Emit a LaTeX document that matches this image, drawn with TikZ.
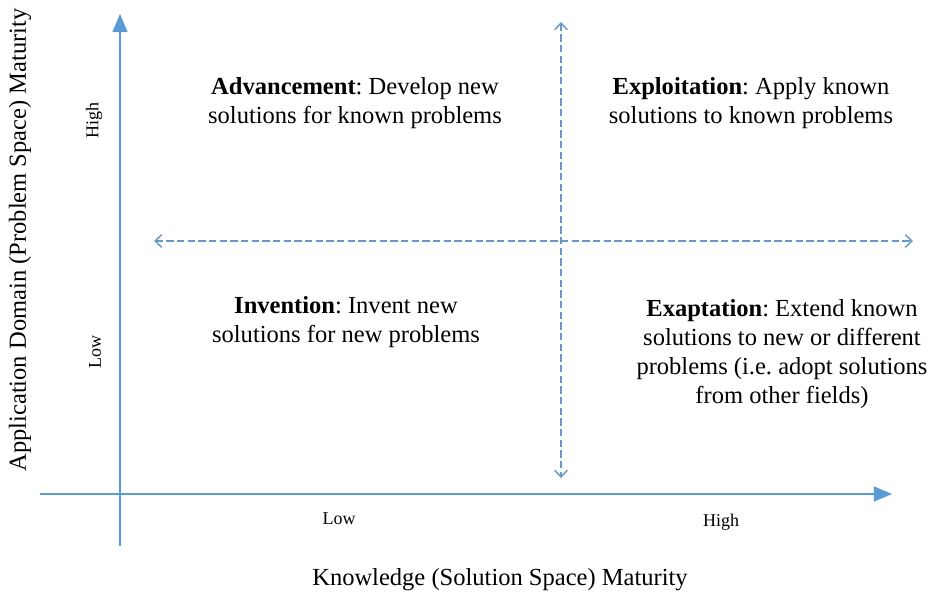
\documentclass[tikz,border=0pt]{standalone}
\usepackage{fontspec}
\setmainfont{Liberation Serif}
\usetikzlibrary{arrows,arrows.meta}
\definecolor{axisblue}{RGB}{91,155,213}
\definecolor{dashblue}{RGB}{104,152,198}
\tikzstyle{axis} = [draw=axisblue,line width=2.2pt,-triangle 45]
\tikzstyle{divider} = [draw=dashblue,line width=1.3pt,dash pattern=on 5.3pt off 2.7pt,
	{Straight Barb[length=5pt,width=9.5pt,line width=1.1pt]}-{Straight Barb[length=5pt,width=9.5pt,line width=1.1pt]}]
\tikzstyle{quadrant} = [align=center,font=\fontsize{18.4}{21.8}\selectfont,inner sep=0pt]
\tikzstyle{level} = [font=\fontsize{13.5}{16}\selectfont,inner sep=0pt]
\tikzstyle{title} = [font=\fontsize{18.4}{21.5}\selectfont,inner sep=0pt]
\frenchspacing

\begin{document}
\begin{tikzpicture}[x=0.75pt,y=-0.75pt]
				\useasboundingbox (0,0) rectangle (929,594);

				% Axis end points and the crossing of the dividers
				\coordinate (ybot) at (120,546);
				\coordinate (ytop) at (120,14);
				\coordinate (xleft) at (40,494);
				\coordinate (xright) at (892,494);
				\coordinate (vtop) at (561,22);
				\coordinate (vbot) at (561,478);
				\coordinate (hleft) at (154,241);
				\coordinate (hright) at (913,241);

				% Axes and dividers
				\path[axis] (ybot) -- (ytop);
				\path[axis] (xleft) -- (xright);
				\path[divider] (vtop) -- (vbot);
				\path[divider] (hleft) -- (hright);

				% Quadrant texts
				\node[quadrant] (advancement) at (355,103) {\textbf{Advancement}: Develop new\\solutions for known problems};
				\node[quadrant] (exploitation) at (751,103) {\textbf{Exploitation}: Apply known\\solutions to known problems};
				\node[quadrant] (invention) at (346,322) {\textbf{Invention}: Invent new\\solutions for new problems};
				\node[quadrant] (exaptation) at (782,354) {\textbf{Exaptation}: Extend known\\solutions to new or different\\problems (i.e. adopt solutions\\from other fields)};

				% Level labels on the axes
				\foreach \pos/\name/\lbl in {{(339,519)/xlow/Low}, {(721,522)/xhigh/High}}
				\node[level] (\name) at \pos {\lbl};
				\foreach \pos/\name/\lbl in {{(94,120)/yhigh/High}, {(95,352)/ylow/Low}}
				\node[level, rotate=90] (\name) at \pos {\lbl};

				% Axis titles
				\node[title] (xtitle) at (500,580) {Knowledge (Solution Space) Maturity};
				\node[title, rotate=90] (ytitle) at (20,240) {Application Domain (Problem Space) Maturity};

			\end{tikzpicture}
\end{document}
